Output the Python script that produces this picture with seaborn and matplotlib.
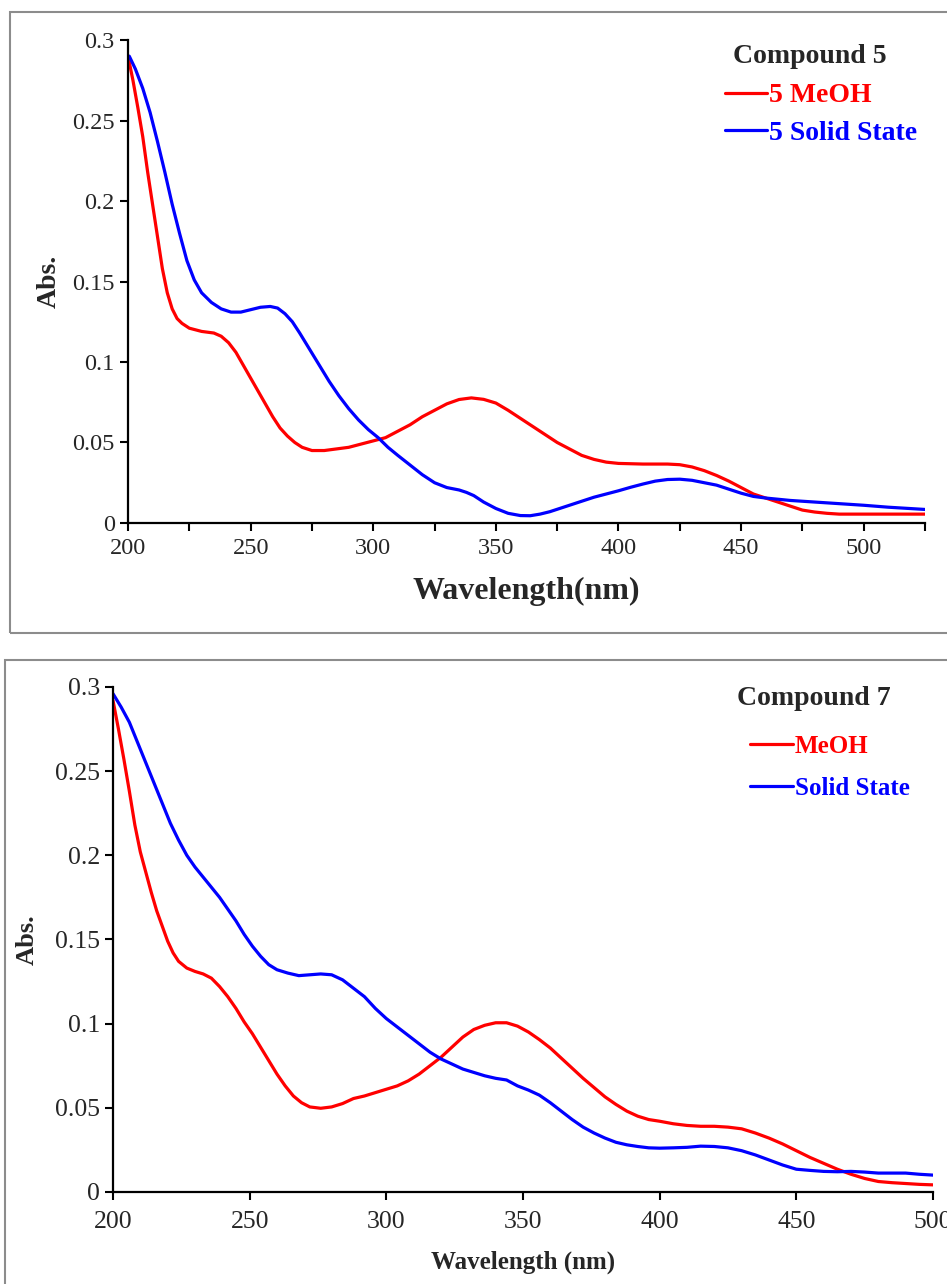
import pandas as pd
import seaborn as sns
import matplotlib.pyplot as plt
from matplotlib.patches import Rectangle
from matplotlib.ticker import MultipleLocator, FuncFormatter

# compound 5 spectra
wl_5_meoh = [200, 202, 204, 206, 208, 210, 212, 214, 216, 218, 220, 222, 225, 230, 235, 238, 241,
             244, 247, 250, 253, 256, 259, 262, 265, 268, 271, 275, 280, 285, 290, 295, 300, 305,
             310, 315, 320, 325, 330, 335, 340, 345, 350, 355, 360, 365, 370, 375, 380, 385, 390,
             395, 400, 410, 420, 425, 430, 435, 440, 445, 450, 455, 460, 465, 470, 475, 480, 485,
             490, 500, 525]
abs_5_meoh = [0.290, 0.275, 0.258, 0.240, 0.218, 0.198, 0.178, 0.158, 0.143, 0.133, 0.127, 0.124,
              0.121, 0.119, 0.118, 0.116, 0.112, 0.106, 0.098, 0.090, 0.082, 0.074, 0.066, 0.059,
              0.054, 0.050, 0.047, 0.045, 0.045, 0.046, 0.047, 0.049, 0.051, 0.053, 0.057, 0.061,
              0.066, 0.070, 0.074, 0.0767, 0.0777, 0.0768, 0.0745, 0.070, 0.065, 0.060, 0.055,
              0.050, 0.046, 0.042, 0.0395, 0.0378, 0.037, 0.0366, 0.0366, 0.0362, 0.0348, 0.0325,
              0.0295, 0.026, 0.022, 0.018, 0.0155, 0.013, 0.0105, 0.008, 0.0068, 0.006, 0.0055,
              0.0055, 0.0055]
wl_5_solid = [200.5, 203, 206, 209, 212, 215, 218, 221, 224, 227, 230, 234, 238, 242, 246, 250,
              254, 258, 261, 264, 267, 270, 274, 278, 282, 286, 290, 294, 298, 302, 306, 310, 315,
              320, 325, 330, 335, 338, 341, 345, 350, 355, 360, 364, 368, 372, 376, 380, 385, 390,
              395, 400, 405, 410, 415, 420, 425, 430, 435, 440, 445, 450, 455, 460, 470, 480, 490,
              500, 510, 525]
abs_5_solid = [0.290, 0.282, 0.270, 0.255, 0.237, 0.218, 0.198, 0.180, 0.163, 0.151, 0.143, 0.137,
               0.133, 0.131, 0.131, 0.1325, 0.134, 0.1345, 0.1335, 0.130, 0.125, 0.118, 0.108,
               0.098, 0.088, 0.079, 0.071, 0.064, 0.058, 0.053, 0.047, 0.042, 0.036, 0.030, 0.025,
               0.022, 0.0205, 0.019, 0.017, 0.013, 0.009, 0.006, 0.0046, 0.0045, 0.0055, 0.007,
               0.009, 0.011, 0.0135, 0.016, 0.018, 0.020, 0.0222, 0.0242, 0.026, 0.027, 0.0272,
               0.0265, 0.025, 0.0235, 0.021, 0.0185, 0.0165, 0.0155, 0.014, 0.013, 0.012, 0.011,
               0.0098, 0.0084]

# compound 7 spectra
wl_7_meoh = [200, 202, 204, 206, 208, 210, 212, 214, 216, 218, 220, 222, 224, 227, 230, 233, 236,
             239, 242, 245, 248, 251, 254, 257, 260, 263, 266, 269, 272, 276, 280, 284, 288, 292,
             296, 300, 304, 308, 312, 316, 320, 324, 328, 332, 336, 340, 344, 348, 352, 356, 360,
             364, 368, 372, 376, 380, 384, 388, 392, 396, 400, 405, 410, 415, 420, 425, 430, 435,
             440, 445, 450, 455, 460, 465, 470, 475, 480, 485, 490, 495, 500]
abs_7_meoh = [0.292, 0.275, 0.257, 0.238, 0.218, 0.202, 0.190, 0.178, 0.167, 0.158, 0.149, 0.142,
              0.137, 0.133, 0.131, 0.1295, 0.127, 0.122, 0.116, 0.109, 0.101, 0.094, 0.086, 0.078,
              0.070, 0.063, 0.057, 0.053, 0.0505, 0.0497, 0.0505, 0.0525, 0.0555, 0.057, 0.059,
              0.061, 0.063, 0.066, 0.070, 0.075, 0.080, 0.086, 0.092, 0.0965, 0.099, 0.1005,
              0.1005, 0.0985, 0.095, 0.0905, 0.0855, 0.0795, 0.0735, 0.0675, 0.062, 0.0565, 0.052,
              0.048, 0.045, 0.043, 0.042, 0.0405, 0.0395, 0.039, 0.039, 0.0385, 0.0375, 0.035,
              0.032, 0.0285, 0.0245, 0.0205, 0.017, 0.0135, 0.0105, 0.008, 0.0062, 0.0055, 0.005,
              0.0045, 0.0042]
wl_7_solid = [200, 203, 206, 209, 212, 215, 218, 221, 224, 227, 230, 233, 236, 239, 242, 245, 248,
              251, 254, 257, 260, 264, 268, 272, 276, 280, 284, 288, 292, 296, 300, 304, 308, 312,
              316, 320, 324, 328, 332, 336, 340, 344, 348, 352, 356, 360, 364, 368, 372, 376, 380,
              384, 388, 392, 396, 400, 405, 410, 415, 420, 425, 430, 435, 440, 445, 450, 455, 460,
              465, 470, 475, 480, 485, 490, 495, 500]
abs_7_solid = [0.296, 0.288, 0.279, 0.267, 0.255, 0.243, 0.231, 0.219, 0.209, 0.200, 0.193, 0.187,
               0.181, 0.175, 0.168, 0.161, 0.153, 0.146, 0.140, 0.135, 0.132, 0.130, 0.1285, 0.129,
               0.1295, 0.129, 0.126, 0.121, 0.116, 0.109, 0.103, 0.098, 0.093, 0.088, 0.083,
               0.079, 0.076, 0.073, 0.071, 0.069, 0.0675, 0.0665, 0.063, 0.0605, 0.0575, 0.053,
               0.048, 0.043, 0.0385, 0.035, 0.032, 0.0295, 0.028, 0.027, 0.0262, 0.026, 0.0262,
               0.0265, 0.0272, 0.027, 0.0262, 0.0245, 0.022, 0.019, 0.016, 0.0135, 0.0128, 0.0122,
               0.012, 0.0122, 0.0118, 0.0112, 0.0112, 0.0112, 0.0105, 0.010]

sns.set_style('ticks')
plt.rcParams['font.family'] = ['Liberation Serif', 'DejaVu Serif']

fig = plt.figure(figsize=(9.47, 12.84), dpi=100)

# panel frames
fig.patches.append(Rectangle((0.0106, 0.507), 1.0, 0.4836, transform=fig.transFigure,
                             fill=False, edgecolor='#8c8c8c', lw=1.5))
fig.patches.append(Rectangle((0.0053, -0.01), 1.0, 0.496, transform=fig.transFigure,
                             fill=False, edgecolor='#8c8c8c', lw=1.5))

ax1 = fig.add_axes([0.1352, 0.5927, 0.8416, 0.3761])
ax2 = fig.add_axes([0.1193, 0.0717, 0.8659, 0.3933])


def long_df(w1, a1, l1, w2, a2, l2):
    d1 = pd.DataFrame({'wl': w1, 'abs': a1, 'series': l1})
    d2 = pd.DataFrame({'wl': w2, 'abs': a2, 'series': l2})
    return pd.concat([d1, d2], ignore_index=True)


df5 = long_df(wl_5_meoh, abs_5_meoh, '5 MeOH', wl_5_solid, abs_5_solid, '5 Solid State')
df7 = long_df(wl_7_meoh, abs_7_meoh, 'MeOH', wl_7_solid, abs_7_solid, 'Solid State')

sns.lineplot(data=df5, x='wl', y='abs', hue='series', palette=['#ff0000', '#0000ff'],
             lw=2.3, ax=ax1)
sns.lineplot(data=df7, x='wl', y='abs', hue='series', palette=['#ff0000', '#0000ff'],
             lw=2.3, ax=ax2)

fmt = FuncFormatter(lambda v, p: '%g' % round(v, 3))

for ax, xmax, minor in [(ax1, 525, True), (ax2, 500, False)]:
    ax.set_xlim(200, xmax)
    ax.set_ylim(0, 0.3)
    ax.xaxis.set_major_locator(MultipleLocator(50))
    if minor:
        ax.xaxis.set_minor_locator(MultipleLocator(25))
    ax.yaxis.set_major_locator(MultipleLocator(0.05))
    ax.yaxis.set_major_formatter(fmt)
    ax.tick_params(which='both', direction='out', length=6, width=1.5, color='black')
    for s in ['top', 'right']:
        ax.spines[s].set_visible(False)
    for s in ['left', 'bottom']:
        ax.spines[s].set_linewidth(1.6)
        ax.spines[s].set_color('black')

ax1.tick_params(labelsize=17.5)
ax1.tick_params(axis='x', pad=5)
ax2.tick_params(labelsize=18.5)
ax2.tick_params(axis='x', pad=8)

ax1.set_xlabel('Wavelength(nm)', fontsize=23, fontweight='bold')
ax1.set_ylabel('Abs.', fontsize=20, fontweight='bold')
ax1.xaxis.set_label_coords(0.5, -0.112)
ax1.yaxis.set_label_coords(-0.083, 0.5)

ax2.set_xlabel('Wavelength (nm)', fontsize=18, fontweight='bold')
ax2.set_ylabel('Abs.', fontsize=19, fontweight='bold')
ax2.xaxis.set_label_coords(0.5, -0.117)
ax2.yaxis.set_label_coords(-0.091, 0.5)

# legends
ax1.text(0.759, 0.966, 'Compound 5', transform=ax1.transAxes, fontsize=20,
         fontweight='bold', va='center', ha='left')
leg1 = ax1.legend(loc='upper left', bbox_to_anchor=(0.749, 0.911), frameon=False,
                  handlelength=1.5, handletextpad=0.1, borderpad=0, borderaxespad=0,
                  labelspacing=0.42, labelcolor='linecolor',
                  prop={'size': 20, 'weight': 'bold'})

ax2.text(0.761, 0.978, 'Compound 7', transform=ax2.transAxes, fontsize=20,
         fontweight='bold', va='center', ha='left')
leg2 = ax2.legend(loc='upper left', bbox_to_anchor=(0.777, 0.905), frameon=False,
                  handlelength=1.7, handletextpad=0.1, borderpad=0, borderaxespad=0,
                  labelspacing=0.76, labelcolor='linecolor',
                  prop={'size': 18, 'weight': 'bold'})

plt.savefig('out.png', dpi=100)
plt.close()
